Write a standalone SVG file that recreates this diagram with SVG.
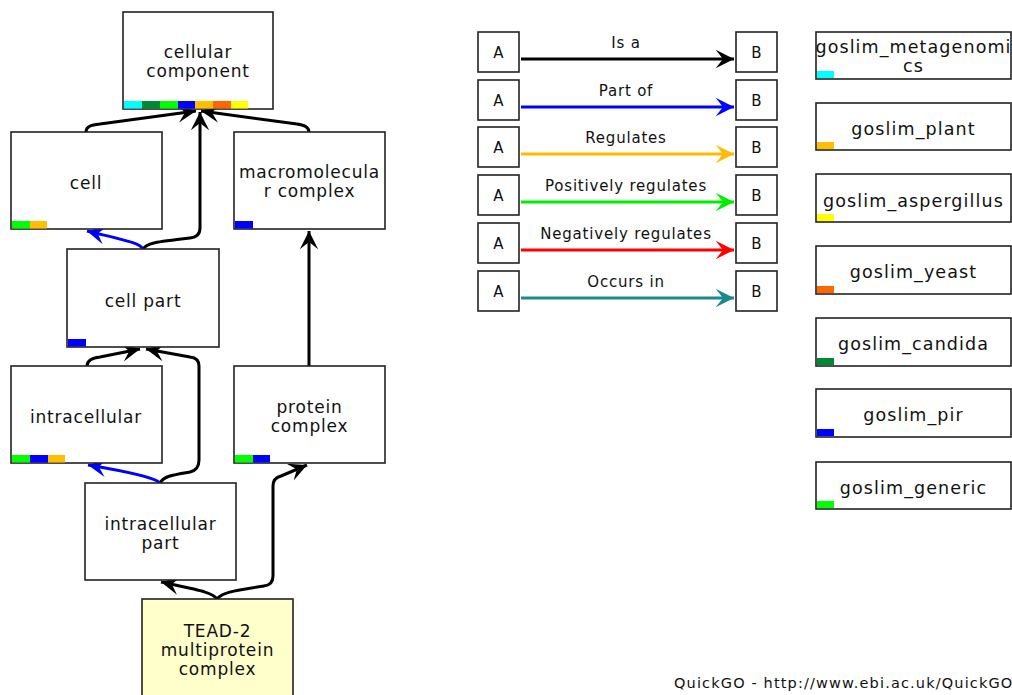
<svg xmlns="http://www.w3.org/2000/svg" width="1012" height="695" viewBox="0 0 1012 695">
  <style>
    .box { fill: #ffffff; stroke: #222222; stroke-width: 1.6; }
    .term { fill: #ffffcc; stroke: #222222; stroke-width: 1.6; }
    .lbl { font-family: "DejaVu Sans", "Liberation Sans", sans-serif; font-size: 17px; letter-spacing: 0.8px; fill: #111111; text-anchor: middle; }
    .slim { font-family: "DejaVu Sans", "Liberation Sans", sans-serif; font-size: 17.5px; letter-spacing: 1.1px; fill: #111111; text-anchor: middle; }
    .leg { font-family: "DejaVu Sans", "Liberation Sans", sans-serif; font-size: 15px; letter-spacing: 0.8px; fill: #111111; text-anchor: middle; }
    .ab { font-family: "DejaVu Sans", "Liberation Sans", sans-serif; font-size: 15px; fill: #111111; text-anchor: middle; }
    .foot { font-family: "DejaVu Sans", "Liberation Sans", sans-serif; font-size: 14.5px; letter-spacing: 1.15px; fill: #111111; }
    .edge { fill: none; stroke-width: 3; stroke-linejoin: round; }
    .isa { stroke: #000000; }
    .partof { stroke: #0000ff; }
  </style>
  <defs>
    <marker id="ahBlack" markerUnits="userSpaceOnUse" markerWidth="22" markerHeight="22" viewBox="-16 -9 18 18" refX="0" refY="0" orient="auto">
      <path d="M0,0 L-15,-7.5 L-9,0 L-15,7.5 Z" fill="#000000"/>
    </marker>
    <marker id="ahBlue" markerUnits="userSpaceOnUse" markerWidth="22" markerHeight="22" viewBox="-16 -9 18 18" refX="0" refY="0" orient="auto">
      <path d="M0,0 L-15,-7.5 L-9,0 L-15,7.5 Z" fill="#0000ff"/>
    </marker>
    <marker id="ahGold" markerUnits="userSpaceOnUse" markerWidth="22" markerHeight="22" viewBox="-16 -9 18 18" refX="0" refY="0" orient="auto">
      <path d="M0,0 L-15,-7.5 L-9,0 L-15,7.5 Z" fill="#ffbb00"/>
    </marker>
    <marker id="ahGreen" markerUnits="userSpaceOnUse" markerWidth="22" markerHeight="22" viewBox="-16 -9 18 18" refX="0" refY="0" orient="auto">
      <path d="M0,0 L-15,-7.5 L-9,0 L-15,7.5 Z" fill="#00ee00"/>
    </marker>
    <marker id="ahRed" markerUnits="userSpaceOnUse" markerWidth="22" markerHeight="22" viewBox="-16 -9 18 18" refX="0" refY="0" orient="auto">
      <path d="M0,0 L-15,-7.5 L-9,0 L-15,7.5 Z" fill="#ff0000"/>
    </marker>
    <marker id="ahTeal" markerUnits="userSpaceOnUse" markerWidth="22" markerHeight="22" viewBox="-16 -9 18 18" refX="0" refY="0" orient="auto">
      <path d="M0,0 L-15,-7.5 L-9,0 L-15,7.5 Z" fill="#1a8a8a"/>
    </marker>
  </defs>

  <rect width="1012" height="695" fill="#ffffff"/>

  <!-- ontology graph connectors -->
  <g id="connectors">
    <path class="edge isa" d="M86,132 C86,127 90,125 100,124 L196,111" marker-end="url(#ahBlack)"/>
    <path class="edge isa" d="M309,132 C309,127 305,125 297,124 L201,111" marker-end="url(#ahBlack)"/>
    <path class="edge isa" d="M143,249 C147,243 155,242 190,238 Q200,237 200,228 L200,112" marker-end="url(#ahBlack)"/>
    <path class="edge partof" d="M143,249 C140,243 128,241 87,231" marker-end="url(#ahBlue)"/>
    <path class="edge isa" d="M309,366 L309,231" marker-end="url(#ahBlack)"/>
    <path class="edge isa" d="M87,366 C87,360 92,358 100,357 L140,349" marker-end="url(#ahBlack)"/>
    <path class="edge isa" d="M160,483 C164,476 172,475 190,472 Q199,470 199,460 L199,366 Q199,358 190,357 L146,349" marker-end="url(#ahBlack)"/>
    <path class="edge partof" d="M160,483 C156,478 130,472 88,465" marker-end="url(#ahBlue)"/>
    <path class="edge isa" d="M217,599 C212,592 198,590 161,582" marker-end="url(#ahBlack)"/>
    <path class="edge isa" d="M217,599 C222,593 230,591 264,586 Q273,585 273,576 L273,486 Q273,478 281,476 L307,465" marker-end="url(#ahBlack)"/>
  </g>

  <!-- ontology terms -->
  <g id="node-cellular-component">
    <rect class="box" x="123" y="12" width="150" height="97"/>
    <rect x="124" y="101" width="18" height="7.5" fill="#00ffff"/>
    <rect x="142" y="101" width="18" height="7.5" fill="#008833"/>
    <rect x="160" y="101" width="18" height="7.5" fill="#00ff00"/>
    <rect x="178" y="101" width="17" height="7.5" fill="#0000ff"/>
    <rect x="195" y="101" width="18" height="7.5" fill="#ffbf00"/>
    <rect x="213" y="101" width="18" height="7.5" fill="#ff6600"/>
    <rect x="231" y="101" width="17" height="7.5" fill="#ffff00"/>
    <text class="lbl" x="198" y="58">cellular</text>
    <text class="lbl" x="198" y="77">component</text>
  </g>

  <g id="node-cell">
    <rect class="box" x="11" y="132" width="151" height="97"/>
    <rect x="12" y="221" width="18" height="7.5" fill="#00ff00"/>
    <rect x="30" y="221" width="17" height="7.5" fill="#ffbf00"/>
    <text class="lbl" x="86" y="189">cell</text>
  </g>

  <g id="node-macromolecular-complex">
    <rect class="box" x="234" y="132" width="151" height="97"/>
    <rect x="235" y="221" width="18" height="7.5" fill="#0000ff"/>
    <text class="lbl" x="309.5" y="178" letter-spacing="0.3">macromolecula</text>
    <text class="lbl" x="309.5" y="197">r complex</text>
  </g>

  <g id="node-cell-part">
    <rect class="box" x="67" y="249" width="152" height="98"/>
    <rect x="68" y="339" width="18" height="7.5" fill="#0000ff"/>
    <text class="lbl" x="143" y="307">cell part</text>
  </g>

  <g id="node-intracellular">
    <rect class="box" x="11" y="366" width="151" height="97"/>
    <rect x="12" y="455" width="18" height="7.5" fill="#00ff00"/>
    <rect x="30" y="455" width="18" height="7.5" fill="#0000ff"/>
    <rect x="48" y="455" width="17" height="7.5" fill="#ffbf00"/>
    <text class="lbl" x="86" y="423">intracellular</text>
  </g>

  <g id="node-protein-complex">
    <rect class="box" x="234" y="366" width="151" height="97"/>
    <rect x="235" y="455" width="18" height="7.5" fill="#00ff00"/>
    <rect x="253" y="455" width="17" height="7.5" fill="#0000ff"/>
    <text class="lbl" x="309.5" y="413">protein</text>
    <text class="lbl" x="309.5" y="432">complex</text>
  </g>

  <g id="node-intracellular-part">
    <rect class="box" x="85" y="483" width="151" height="97"/>
    <text class="lbl" x="160.5" y="530">intracellular</text>
    <text class="lbl" x="160.5" y="549">part</text>
  </g>

  <g id="node-tead2">
    <rect class="term" x="142" y="599" width="151" height="104"/>
    <text class="lbl" x="217.5" y="637">TEAD-2</text>
    <text class="lbl" x="217.5" y="656">multiprotein</text>
    <text class="lbl" x="217.5" y="675">complex</text>
  </g>

  <!-- relation key -->
  <g id="legend">
    <g id="key-is-a">
      <rect class="box" x="478" y="32" width="41" height="40"/>
      <rect class="box" x="736" y="32" width="41" height="40"/>
      <text class="ab" x="498.5" y="58">A</text>
      <text class="ab" x="756.5" y="58">B</text>
      <text class="leg" x="626" y="48">Is a</text>
      <path class="edge" stroke="#000000" d="M521,59 L734,59" marker-end="url(#ahBlack)"/>
    </g>
    <g id="key-part-of">
      <rect class="box" x="478" y="80" width="41" height="40"/>
      <rect class="box" x="736" y="80" width="41" height="40"/>
      <text class="ab" x="498.5" y="106">A</text>
      <text class="ab" x="756.5" y="106">B</text>
      <text class="leg" x="626" y="96">Part of</text>
      <path class="edge" stroke="#0000ff" d="M521,107 L734,107" marker-end="url(#ahBlue)"/>
    </g>
    <g id="key-regulates">
      <rect class="box" x="478" y="127" width="41" height="40"/>
      <rect class="box" x="736" y="127" width="41" height="40"/>
      <text class="ab" x="498.5" y="153">A</text>
      <text class="ab" x="756.5" y="153">B</text>
      <text class="leg" x="626" y="143">Regulates</text>
      <path class="edge" stroke="#ffbb00" d="M521,154 L734,154" marker-end="url(#ahGold)"/>
    </g>
    <g id="key-positively-regulates">
      <rect class="box" x="478" y="175" width="41" height="40"/>
      <rect class="box" x="736" y="175" width="41" height="40"/>
      <text class="ab" x="498.5" y="201">A</text>
      <text class="ab" x="756.5" y="201">B</text>
      <text class="leg" x="626" y="191">Positively regulates</text>
      <path class="edge" stroke="#00ee00" d="M521,202 L734,202" marker-end="url(#ahGreen)"/>
    </g>
    <g id="key-negatively-regulates">
      <rect class="box" x="478" y="223" width="41" height="40"/>
      <rect class="box" x="736" y="223" width="41" height="40"/>
      <text class="ab" x="498.5" y="249">A</text>
      <text class="ab" x="756.5" y="249">B</text>
      <text class="leg" x="626" y="239">Negatively regulates</text>
      <path class="edge" stroke="#ff0000" d="M521,250 L734,250" marker-end="url(#ahRed)"/>
    </g>
    <g id="key-occurs-in">
      <rect class="box" x="478" y="271" width="41" height="40"/>
      <rect class="box" x="736" y="271" width="41" height="40"/>
      <text class="ab" x="498.5" y="297">A</text>
      <text class="ab" x="756.5" y="297">B</text>
      <text class="leg" x="626" y="287">Occurs in</text>
      <path class="edge" stroke="#1a8a8a" d="M521,298 L734,298" marker-end="url(#ahTeal)"/>
    </g>
  </g>

  <!-- GO slim subsets -->
  <g id="slim-metagenomics">
    <rect class="box" x="816" y="32" width="195" height="47"/>
    <rect x="817" y="71" width="17" height="7" fill="#00ffff"/>
    <text class="slim" x="913.5" y="53" letter-spacing="0.9">goslim_metagenomi</text>
    <text class="slim" x="913.5" y="72">cs</text>
  </g>
  <g id="slim-plant">
    <rect class="box" x="816" y="103" width="195" height="47"/>
    <rect x="817" y="142" width="17" height="7" fill="#ffbf00"/>
    <text class="slim" x="913.5" y="135">goslim_plant</text>
  </g>
  <g id="slim-aspergillus">
    <rect class="box" x="816" y="174" width="195" height="48"/>
    <rect x="817" y="214" width="17" height="7" fill="#ffff00"/>
    <text class="slim" x="913.5" y="207">goslim_aspergillus</text>
  </g>
  <g id="slim-yeast">
    <rect class="box" x="816" y="246" width="195" height="48"/>
    <rect x="817" y="286" width="17" height="7" fill="#ff6600"/>
    <text class="slim" x="913.5" y="278">goslim_yeast</text>
  </g>
  <g id="slim-candida">
    <rect class="box" x="816" y="318" width="195" height="48"/>
    <rect x="817" y="358" width="17" height="7" fill="#008833"/>
    <text class="slim" x="913.5" y="350">goslim_candida</text>
  </g>
  <g id="slim-pir">
    <rect class="box" x="816" y="389" width="195" height="48"/>
    <rect x="817" y="429" width="17" height="7" fill="#0000ff"/>
    <text class="slim" x="913.5" y="421">goslim_pir</text>
  </g>
  <g id="slim-generic">
    <rect class="box" x="816" y="462" width="195" height="47"/>
    <rect x="817" y="501" width="17" height="7" fill="#00ff00"/>
    <text class="slim" x="913.5" y="494">goslim_generic</text>
  </g>

  <text class="foot" x="674" y="688">QuickGO - http://www.ebi.ac.uk/QuickGO</text>
</svg>
